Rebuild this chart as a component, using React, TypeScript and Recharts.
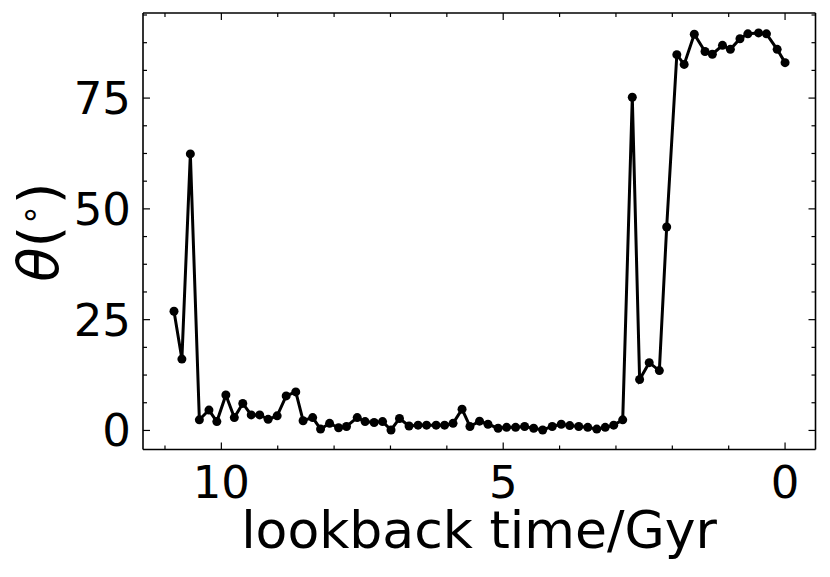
import React from 'react';
import { LineChart, Line, XAxis, YAxis } from 'recharts';

// lookback time (Gyr) and misalignment angle (deg)
const lookback = [
  10.84, 10.70, 10.55, 10.39, 10.22, 10.08, 9.92, 9.77, 9.62, 9.47,
  9.32, 9.17, 9.01, 8.85, 8.68, 8.55, 8.38, 8.24, 8.08, 7.92,
  7.78, 7.59, 7.45, 7.29, 7.14, 6.99, 6.84, 6.67, 6.51, 6.36,
  6.19, 6.04, 5.89, 5.73, 5.59, 5.42, 5.27, 5.09, 4.94, 4.78,
  4.62, 4.46, 4.30, 4.13, 3.97, 3.82, 3.66, 3.50, 3.34, 3.19,
  3.04, 2.88, 2.71, 2.58, 2.41, 2.23, 2.10, 1.92, 1.79, 1.61,
  1.42, 1.29, 1.11, 0.97, 0.80, 0.66, 0.47, 0.33, 0.14, 0.0,
];
const theta = [
  26.9, 16.1, 62.4, 2.4, 4.6, 2.0, 8.0, 2.9, 6.1, 3.5,
  3.5, 2.5, 3.3, 7.8, 8.7, 2.2, 2.9, 0.3, 1.6, 0.6,
  0.9, 2.9, 2.0, 1.8, 2.0, 0.1, 2.7, 1.0, 1.2, 1.2,
  1.2, 1.2, 1.6, 4.8, 0.9, 2.1, 1.4, 0.5, 0.7, 0.7,
  0.9, 0.5, 0.1, 0.9, 1.4, 1.1, 0.9, 0.7, 0.3, 0.7,
  1.2, 2.4, 75.2, 11.5, 15.3, 13.5, 45.9, 84.8, 82.6, 89.4,
  85.5, 84.9, 86.9, 86.0, 88.4, 89.5, 89.7, 89.5, 86.0, 83.0,
];

const xTicks = [0, 1, 2, 3, 4, 5, 6, 7, 8, 9, 10, 11];
const xMajor = [0, 5, 10];
const yTicks = [0, 6.25, 12.5, 18.75, 25, 31.25, 37.5, 43.75, 50, 56.25, 62.5, 68.75, 75, 81.25, 87.5, 93.75];
const yMajor = [0, 25, 50, 75];

const data = lookback.map((t, i) => ({ t, theta: theta[i] }));

const FONT = 'DejaVu Sans';
const TICK_FS = 45;
const LABEL_FS = 52;

const BottomTick = (props: any) => {
  const { x, y, payload } = props;
  const major = xMajor.includes(payload.value);
  return (
    <g>
      <line x1={x} x2={x} y1={y} y2={y - (major ? 7 : 4)} stroke="#000" strokeWidth={1.2} />
      {major && (
        <text x={x} y={y + 48} textAnchor="middle" fontSize={TICK_FS} fontFamily={FONT} fill="#000">
          {payload.value}
        </text>
      )}
    </g>
  );
};

const TopTick = (props: any) => {
  const { x, y, payload } = props;
  const major = xMajor.includes(payload.value);
  return <line x1={x} x2={x} y1={y} y2={y + (major ? 7 : 4)} stroke="#000" strokeWidth={1.2} />;
};

const LeftTick = (props: any) => {
  const { x, y, payload } = props;
  const major = yMajor.includes(payload.value);
  return (
    <g>
      <line x1={x} x2={x + (major ? 7 : 4)} y1={y} y2={y} stroke="#000" strokeWidth={1.2} />
      {major && (
        <text x={x - 12} y={y + 16} textAnchor="end" fontSize={TICK_FS} fontFamily={FONT} fill="#000">
          {payload.value}
        </text>
      )}
    </g>
  );
};

const RightTick = (props: any) => {
  const { x, y, payload } = props;
  const major = yMajor.includes(payload.value);
  return <line x1={x} x2={x - (major ? 7 : 4)} y1={y} y2={y} stroke="#000" strokeWidth={1.2} />;
};

const XLabel = () => (
  <text x={471} y={540} textAnchor="middle" fontSize={LABEL_FS} fontFamily={FONT} fill="#000">
    lookback time/Gyr
  </text>
);

const YLabel = () => (
  <text transform="translate(50,224) rotate(-90)" textAnchor="middle" fontSize={56} fontFamily={FONT} fill="#000">
    <tspan fontStyle="italic">θ</tspan>
    <tspan>(</tspan>
    <tspan fontSize={34} dy={-17}>∘</tspan>
    <tspan dy={17}>)</tspan>
  </text>
);

const axisLine = { stroke: '#000', strokeWidth: 1.6 };

export default function App() {
  return (
    <LineChart width={814} height={561} data={data} margin={{ top: 4, right: 5.5, bottom: 0, left: 0 }}>
      <XAxis
        xAxisId="b"
        dataKey="t"
        type="number"
        domain={[-0.54, 11.39]}
        reversed
        allowDataOverflow
        ticks={xTicks}
        interval={0}
        tick={<BottomTick />}
        tickLine={false}
        tickSize={0}
        tickMargin={0}
        axisLine={axisLine}
        height={119.5}
        label={<XLabel />}
      />
      <XAxis
        xAxisId="t"
        orientation="top"
        dataKey="t"
        type="number"
        domain={[-0.54, 11.39]}
        reversed
        allowDataOverflow
        ticks={xTicks}
        interval={0}
        tick={<TopTick />}
        tickLine={false}
        tickSize={0}
        tickMargin={0}
        axisLine={axisLine}
        height={1}
      />
      <YAxis
        yAxisId="l"
        type="number"
        domain={[-4.3, 94.2]}
        allowDataOverflow
        ticks={yTicks}
        interval={0}
        tick={<LeftTick />}
        tickLine={false}
        tickSize={0}
        tickMargin={0}
        axisLine={axisLine}
        width={135}
        label={<YLabel />}
      />
      <YAxis
        yAxisId="r"
        orientation="right"
        type="number"
        domain={[-4.3, 94.2]}
        allowDataOverflow
        ticks={yTicks}
        interval={0}
        tick={<RightTick />}
        tickLine={false}
        tickSize={0}
        tickMargin={0}
        axisLine={axisLine}
        width={1}
      />
      {/* invisible twin so the top/right frame axes get a domain and render */}
      <Line
        xAxisId="t"
        yAxisId="r"
        type="linear"
        dataKey="theta"
        stroke="none"
        dot={false}
        activeDot={false}
        isAnimationActive={false}
      />
      <Line
        xAxisId="b"
        yAxisId="l"
        type="linear"
        dataKey="theta"
        stroke="#000"
        strokeWidth={3}
        dot={{ r: 4.5, fill: '#000', stroke: '#000', strokeWidth: 0 }}
        isAnimationActive={false}
      />
    </LineChart>
  );
}
